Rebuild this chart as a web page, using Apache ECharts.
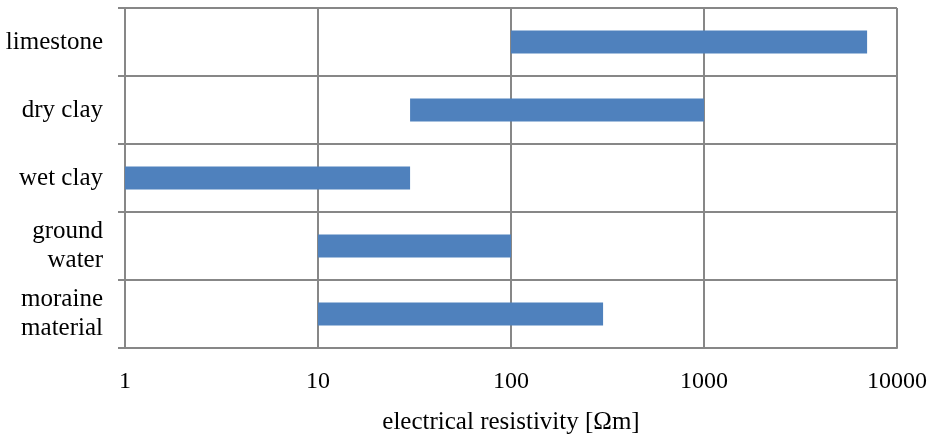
<!DOCTYPE html>
<html>
<head>
<meta charset="utf-8">
<script src="https://cdn.jsdelivr.net/npm/echarts@6/dist/echarts.min.js"></script>
<style>html,body{margin:0;padding:0;background:#fff}#c{width:934px;height:435px}</style>
</head>
<body>
<div id="c"></div>
<script>
const categories = ['limestone', 'dry clay', 'wet clay', 'ground\nwater', 'moraine\nmaterial'];
const rangeStart = [100, 30, 1, 10, 10];
const rangeEnd = [7000, 1000, 30, 100, 300];
const xTicks = [1, 10, 100, 1000, 10000];
const axisTitle = 'electrical resistivity [Ωm]';

const font = 'Liberation Serif';
const lineColor = '#878787';
const chart = echarts.init(document.getElementById('c'));
const data = categories.map((c, i) => [i, rangeStart[i], rangeEnd[i]]);
chart.setOption({
  animation: false,
  grid: { left: 125, right: 37, top: 8, bottom: 87, outerBoundsMode: 'none', containLabel: false },
  xAxis: {
    type: 'log', logBase: 10, min: xTicks[0], max: xTicks[xTicks.length - 1],
    axisLine: { show: true, lineStyle: { color: lineColor, width: 2 } },
    axisTick: { show: false },
    splitLine: { show: true, lineStyle: { color: lineColor, width: 2 } },
    axisLabel: { fontFamily: font, fontSize: 24, color: '#000', margin: 22, formatter: v => String(Math.round(v)) },
    name: axisTitle, nameLocation: 'middle', nameGap: 62,
    nameTextStyle: { fontFamily: font, fontSize: 25, color: '#000' }
  },
  yAxis: {
    type: 'category', data: categories, inverse: true,
    axisLine: { show: true, lineStyle: { color: lineColor, width: 2 } },
    axisTick: { show: true, length: 7, lineStyle: { color: lineColor, width: 2 } },
    splitLine: { show: true, lineStyle: { color: lineColor, width: 2 } },
    axisLabel: { fontFamily: font, fontSize: 25, color: '#000', margin: 22, lineHeight: 29, align: 'right' }
  },
  series: [{
    type: 'custom',
    data: data,
    encode: { y: 0, x: [1, 2] },
    renderItem: function (params, api) {
      const idx = api.value(0);
      const p0 = api.coord([api.value(1), idx]);
      const p1 = api.coord([api.value(2), idx]);
      const h = api.size([0, 1])[1] * 0.34;
      return {
        type: 'rect',
        shape: { x: p0[0], y: p0[1] - h / 2, width: p1[0] - p0[0], height: h },
        style: { fill: '#4F81BD' }
      };
    }
  }]
});
</script>
</body>
</html>
